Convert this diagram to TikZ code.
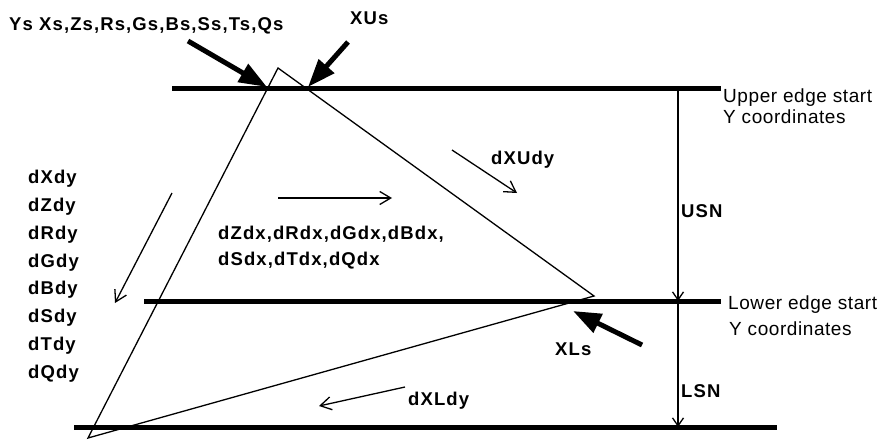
\documentclass[tikz,border=0pt]{standalone}
\usepackage{fontspec}
\setmainfont{Liberation Sans}
\newfontfamily\boldlab[LetterSpace=6]{Liberation Sans Bold}
\newfontfamily\reglab[LetterSpace=3]{Liberation Sans}
\usetikzlibrary{arrows.meta}
\tikzset{
  edge/.style={line width=5pt},
  tri/.style={line width=1.3pt, line join=miter},
  thinarrow/.style={line width=1.3pt, -{Straight Barb[length=11pt,width=13pt,line width=1.3pt]}},
  vertarrow/.style={line width=1.3pt, -{Straight Barb[length=8pt,width=11pt,line width=1.3pt]}},
  fatarrow/.style={line width=5pt, -{Triangle[length=28pt,width=20pt]}},
  blab/.style={inner sep=0pt, anchor=base west, font=\boldlab\fontsize{18.5}{21}\selectfont},
  rlab/.style={inner sep=0pt, anchor=base west, align=left, font=\reglab\fontsize{19}{21}\selectfont},
}
\begin{document}
\begin{tikzpicture}[x=1pt,y=-1pt]
\useasboundingbox (0,0) rectangle (890,439);
% triangle vertices
\coordinate (A) at (278,68);
\coordinate (R) at (594,296);
\coordinate (L) at (88,438);
% edge lines
\coordinate (u1) at (172,88);  \coordinate (u2) at (721,88);
\coordinate (m1) at (144,301); \coordinate (m2) at (721,301);
\coordinate (b1) at (74,427);  \coordinate (b2) at (777,427);
\draw[edge] (u1) -- (u2);
\draw[edge] (m1) -- (m2);
\draw[edge] (b1) -- (b2);
\draw[tri] (A) -- (R) -- (L) -- cycle;
% vertical span arrows
\coordinate (vU) at (678,88);
\coordinate (vM) at (678,301);
\coordinate (vB) at (678,427);
\draw[vertarrow] (vU) -- (vM);
\draw[vertarrow] (vM) -- (vB);
% fat arrows
\coordinate (ysS) at (188,41);  \coordinate (ysT) at (267,87);
\coordinate (xuS) at (348,42);  \coordinate (xuT) at (308,87);
\coordinate (xlS) at (642,345); \coordinate (xlT) at (573,311);
\draw[fatarrow] (ysS) -- (ysT);
\draw[fatarrow] (xuS) -- (xuT);
\draw[fatarrow] (xlS) -- (xlT);
% thin arrows
\coordinate (dxuS) at (452,150); \coordinate (dxuT) at (517,193);
\coordinate (dxS) at (278,198);  \coordinate (dxT) at (392,198);
\coordinate (dyS) at (172,193);  \coordinate (dyT) at (115,303);
\coordinate (dxlS) at (405,387); \coordinate (dxlT) at (319,406);
\draw[thinarrow] (dxuS) -- (dxuT);
\draw[thinarrow] (dxS) -- (dxT);
\draw[thinarrow] (dyS) -- (dyT);
\draw[thinarrow] (dxlS) -- (dxlT);
% labels
\node[blab] (ys) at (9,30) {Ys Xs,Zs,Rs,Gs,Bs,Ss,Ts,Qs};
\node[blab] (xus) at (350,24) {XUs};
\node[blab] (dxudy) at (491,164) {dXUdy};
\node[blab] (usn) at (681,217) {USN};
\node[blab] (lsn) at (681,397) {LSN};
\node[blab] (xls) at (555,355) {XLs};
\node[blab] (dxldy) at (408,405) {dXLdy};
\node[blab] (dx1) at (218,239) {dZdx,dRdx,dGdx,dBdx,};
\node[blab] (dx2) at (218,265) {dSdx,dTdx,dQdx};
\node[blab] (l1) at (28,183) {dXdy};
\node[blab] (l2) at (28,211) {dZdy};
\node[blab] (l3) at (28,239) {dRdy};
\node[blab] (l4) at (28,267) {dGdy};
\node[blab] (l5) at (28,294) {dBdy};
\node[blab] (l6) at (28,322) {dSdy};
\node[blab] (l7) at (28,350) {dTdy};
\node[blab] (l8) at (28,378) {dQdy};
\node[rlab] (up1) at (723,102) {Upper edge start};
\node[rlab] (up2) at (723,123) {Y coordinates};
\node[rlab] (lo1) at (728,309) {Lower edge start};
\node[rlab] (lo2) at (729,335) {Y coordinates};
\end{tikzpicture}
\end{document}
